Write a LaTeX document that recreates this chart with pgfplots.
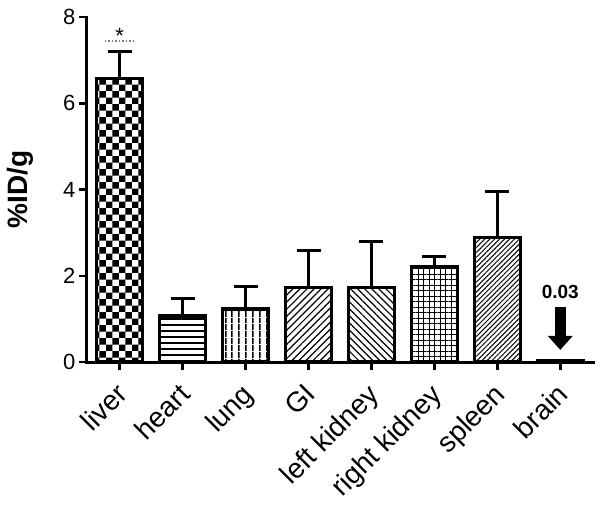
\documentclass[border=0pt]{standalone}
\usepackage{fontspec}
\setmainfont{Liberation Sans}
\usepackage{pgfplots}
\pgfplotsset{compat=1.18}
\usetikzlibrary{patterns.meta,arrows.meta}

% big black/white checkerboard for the liver bar
\pgfdeclarepattern{
  name=bigchecker,
  bottom left={\pgfpoint{0pt}{0pt}},
  top right={\pgfpoint{13.4pt}{13.4pt}},
  tile size={\pgfpoint{13.4pt}{13.4pt}},
  code={
    \pgfpathrectangle{\pgfpoint{0pt}{0pt}}{\pgfpoint{6.7pt}{6.7pt}}
    \pgfpathrectangle{\pgfpoint{6.7pt}{6.7pt}}{\pgfpoint{6.7pt}{6.7pt}}
    \pgfusepath{fill}
  }
}

\begin{document}
\begin{tikzpicture}
\path[use as bounding box] (-87pt,-149pt) rectangle (517pt,362pt);
\begin{axis}[
  at={(0pt,0pt)}, anchor=south west,
  scale only axis, width=506pt, height=345pt,
  xmin=-0.52, xmax=7.52, ymin=0, ymax=8,
  ytick={0,2,4,6,8},
  xtick={0,...,7},
  xticklabels={liver,heart,lung,GI,left kidney,right kidney,spleen,brain},
  axis x line*=bottom, axis y line*=left,
  axis line style={line width=3pt, line cap=rect},
  tick align=outside,
  major tick length=8pt,
  tick style={line width=2.5pt, black},
  /pgf/number format/assume math mode=true,
  yticklabel style={font=\fontsize{22}{24}\selectfont},
  xticklabel style={font=\fontsize{28}{32}\selectfont, xshift=-5pt, yshift=-7pt, rotate=45, anchor=north east},
  ylabel={\%ID/g},
  every axis y label/.style={at={(axis description cs:0,0.5)}, xshift=-50pt, rotate=90, anchor=south,
    font=\bfseries\fontsize{28}{32}\selectfont},
  ybar, bar width=46pt,
  every axis plot/.append style={bar shift=0pt, draw=black, line width=3.3pt},
  errb/.style={error bars/.cd, y dir=plus, y explicit,
    error bar style={line width=3pt, black},
    error mark options={rotate=90, line width=3pt, mark size=12pt, black}},
  clip=false,
]
\addplot[pattern=bigchecker, errb] coordinates {(0,6.58) +- (0,0.62)};
\addplot[pattern={Lines[angle=0,distance=6pt,line width=1.5pt]}, errb] coordinates {(1,1.07) +- (0,0.40)};
\addplot[pattern={Lines[angle=90,distance=6.5pt,line width=1.5pt]}, errb] coordinates {(2,1.23) +- (0,0.51)};
\addplot[pattern={Lines[angle=45,distance=5pt,line width=1.2pt]}, errb] coordinates {(3,1.72) +- (0,0.86)};
\addplot[pattern={Lines[angle=-45,distance=5pt,line width=1.2pt]}, errb] coordinates {(4,1.72) +- (0,1.07)};
\addplot[pattern={Hatch[angle=0,distance=5.5pt,line width=1pt]}, errb] coordinates {(5,2.20) +- (0,0.24)};
\addplot[pattern={Lines[angle=45,distance=3.5pt,line width=1pt]}, errb] coordinates {(6,2.88) +- (0,1.07)};
\addplot[fill=black] coordinates {(7,0.03)};

\node[font=\fontsize{22}{24}\selectfont] at (axis cs:0,7.55) {*};
\draw[gray, dotted, line width=1.5pt] (axis cs:-0.24,7.44) -- (axis cs:0.24,7.44);
\node[font=\bfseries\fontsize{19}{22}\selectfont] at (axis cs:7,1.63) {0.03};
\draw[line width=11pt, -{Triangle[width=24pt,length=14pt]}] (axis cs:7,1.28) -- (axis cs:7,0.28);
\end{axis}
\end{tikzpicture}
\end{document}
